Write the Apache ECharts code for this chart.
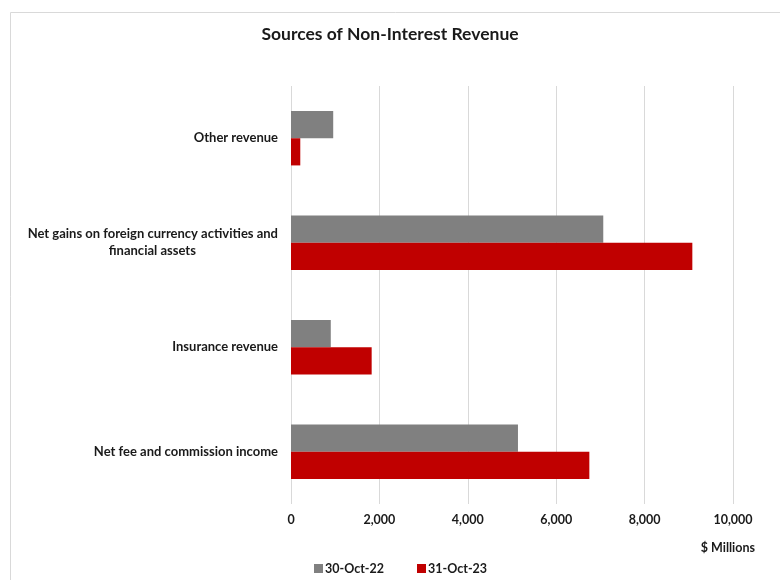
<!DOCTYPE html>
<html>
<head>
<meta charset="utf-8">
<script src="https://cdn.jsdelivr.net/npm/echarts@6/dist/echarts.min.js"></script>
<style>html,body{margin:0;padding:0;background:#fff;}#c{width:780px;height:580px;}</style>
</head>
<body>
<div id="c"></div>
<script>
var categories = ['Net fee and commission income', 'Insurance revenue', 'Net gains on foreign currency activities and\nfinancial assets', 'Other revenue'];
var seriesNames = ['30-Oct-22', '31-Oct-23'];
var values2022 = [5135, 900, 7065, 955];
var values2023 = [6750, 1825, 9080, 210];
var xTicks = { min: 0, max: 10000, interval: 2000 };

var FONT = 'Lato';
var TXT = '#1a1a1a';

var mctx = document.createElement('canvas').getContext('2d');
mctx.font = 'bold 13px ' + FONT;
function measure(s) { return mctx.measureText(s).width; }
var NB = '\u00a0';
function centerLines(v) {
  var parts = v.split('\n');
  if (parts.length === 1) return v;
  var w = Math.max.apply(null, parts.map(measure));
  var sw = measure(NB) || 3.3;
  return parts.map(function (s) {
    var n = Math.round((w - measure(s)) / 2 / sw);
    var p = new Array(n + 1).join(NB);
    return p + s + p;
  }).join('\n');
}

var chart = echarts.init(document.getElementById('c'));
chart.setOption({
  animation: false,
  title: {
    text: 'Sources of Non-Interest Revenue',
    left: 'center', top: 20,
    textStyle: { fontFamily: FONT, fontSize: 17.5, fontWeight: 'bold', color: TXT }
  },
  legend: {
    data: seriesNames,
    left: 309, top: 557,
    icon: 'rect', itemWidth: 9, itemHeight: 9, itemGap: 33,
    textStyle: { fontFamily: FONT, fontSize: 12.5, fontWeight: 'bold', color: TXT, padding: [0,0,0,-3] }
  },
  graphic: [
    { type: 'rect', shape: { x: 10.5, y: 12.5, width: 800, height: 600 }, style: { fill: 'none', stroke: '#d9d9d9', lineWidth: 1 }, silent: true, z: -10 },
    { type: 'text', right: 25, top: 541, style: { text: '$ Millions', fontFamily: FONT, fontSize: 12.5, fontWeight: 'bold', fill: TXT } }
  ],
  grid: { left: 291, right: 47, top: 86, bottom: 76, containLabel: false },
  xAxis: {
    type: 'value', min: xTicks.min, max: xTicks.max, interval: xTicks.interval,
    axisLine: { show: false }, axisTick: { show: false },
    splitLine: { lineStyle: { color: '#d9d9d9', width: 1 } },
    axisLabel: {
      margin: 9, fontFamily: FONT, fontSize: 12.5, fontWeight: 'bold', color: TXT,
      formatter: function (v) { return v.toLocaleString('en-US'); }
    }
  },
  yAxis: {
    type: 'category', data: categories,
    axisLine: { show: false }, axisTick: { show: false },
    axisLabel: {
      margin: 13, align: 'right', lineHeight: 17,
      fontFamily: FONT, fontSize: 13, fontWeight: 'bold', color: TXT,
      formatter: centerLines
    }
  },
  series: [
    { name: seriesNames[0], type: 'bar', data: values2022, barGap: '0%', barCategoryGap: '48%', itemStyle: { color: '#808080' } },
    { name: seriesNames[1], type: 'bar', data: values2023, barGap: '0%', barCategoryGap: '48%', itemStyle: { color: '#c00000' } }
  ]
});
</script>
</body>
</html>
